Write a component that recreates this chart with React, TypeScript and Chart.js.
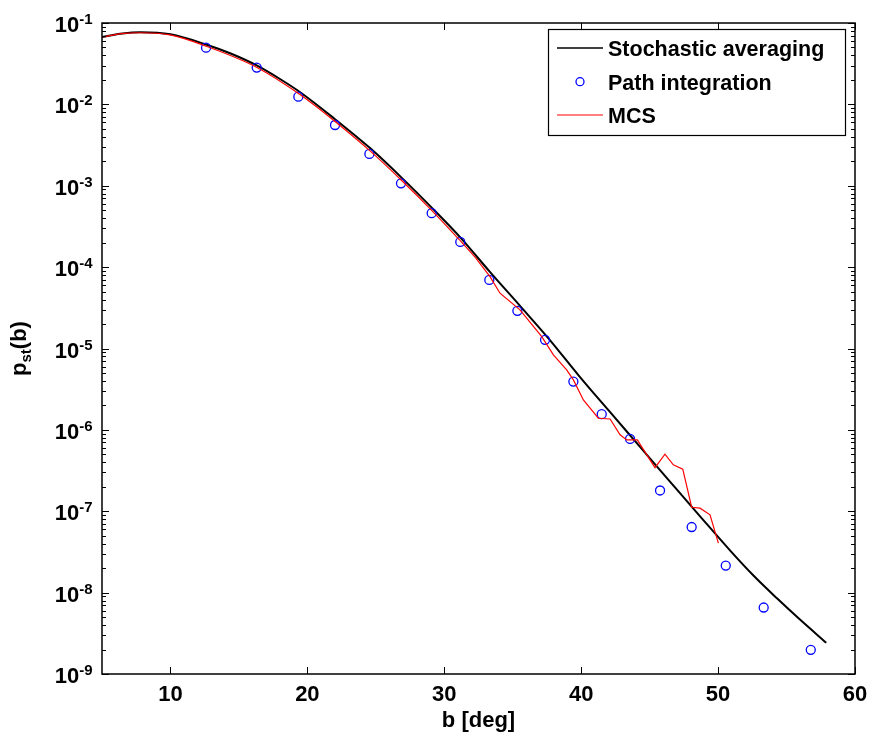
import { useEffect, useRef } from 'react';
import { Chart, registerables } from 'chart.js';

Chart.register(...registerables);

// Stochastic averaging solution p_st(b)
const averagingB = [5, 6.5, 7.8, 10, 12.7, 14.4, 16.3, 18, 19.5, 22, 24.6, 26.9, 29.1, 31.2, 33.3, 35.5, 37.7, 39.9, 42.1, 44.3, 46.5, 48.7, 50.9, 52.6, 54.3, 56, 57.9];
const averagingP = [0.0673, 0.0743, 0.0769, 0.0726, 0.0537, 0.0422, 0.0301, 0.0205, 0.014, 6.62e-3, 2.88e-3, 1.25e-3, 5.35e-4, 2.29e-4, 8.87e-5, 3.39e-5, 1.28e-5, 4.48e-6, 1.66e-6, 6.18e-7, 2.3e-7, 8.6e-8, 3.26e-8, 1.61e-8, 8.51e-9, 4.63e-9, 2.42e-9];

// Path integration results
const pathB = [12.6, 16.3, 19.34, 22.02, 24.53, 26.84, 29.08, 31.17, 33.29, 35.34, 37.36, 39.43, 41.5, 43.57, 45.76, 48.07, 50.56, 53.33, 56.77];
const pathP = [0.0498, 0.0283, 0.01245, 5.58e-3, 2.46e-3, 1.07e-3, 4.6e-4, 2.04e-4, 6.97e-5, 2.9e-5, 1.28e-5, 3.92e-6, 1.56e-6, 7.74e-7, 1.8e-7, 6.4e-8, 2.15e-8, 6.56e-9, 1.98e-9];

// Monte Carlo simulation: smooth body and noisy tail
const mcsBodyB = [5, 6.46, 7.78, 9.97, 12.67, 16.32, 19.46, 22.02, 24.58, 26.89, 29.08, 31.15];
const mcsBodyP = [0.0673, 0.074, 0.0759, 0.0713, 0.0514, 0.0284, 0.0132, 6.17e-3, 2.68e-3, 1.16e-3, 4.98e-4, 2.13e-4];
const mcsTailB = [31.15, 32.25, 33.34, 34.07, 35.53, 37.12, 37.97, 38.94, 39.43, 40.16, 41.25, 42.11, 42.84, 43.33, 44.1, 45.39, 46.12, 46.73, 47.42, 48.07, 48.68, 49.41, 50.02];
const mcsTailP = [2.13e-4, 1.33e-4, 7.64e-5, 4.78e-5, 2.98e-5, 1.4e-5, 8.34e-6, 5.46e-6, 4.11e-6, 2.33e-6, 1.39e-6, 1.36e-6, 8.69e-7, 7.53e-7, 7.53e-7, 3.44e-7, 5.02e-7, 3.72e-7, 3.29e-7, 1.12e-7, 1.09e-7, 9.04e-8, 4.06e-8];

const xTicks = [10, 20, 30, 40, 50, 60];
const yExponents = [-9, -8, -7, -6, -5, -4, -3, -2, -1];
const legendLabels = ['Stochastic averaging', 'Path integration', 'MCS'];

const FONT = '"Liberation Sans", Arial, Helvetica, sans-serif';

const pts = (xs: number[], ys: number[]) => xs.map((x, i) => ({ x, y: ys[i] }));

const axesPlugin = {
  id: 'boxedAxes',
  afterDatasetsDraw(chart: any) {
    const { ctx, chartArea: a, scales } = chart;
    const x = scales.x;
    const y = scales.y;
    ctx.save();
    ctx.strokeStyle = '#000';
    ctx.fillStyle = '#000';
    ctx.lineWidth = 1;
    const seg = (x1: number, y1: number, x2: number, y2: number) => {
      ctx.beginPath();
      ctx.moveTo(x1, y1);
      ctx.lineTo(x2, y2);
      ctx.stroke();
    };
    // x ticks, bottom and top
    for (const t of xTicks) {
      const px = Math.round(x.getPixelForValue(t)) + 0.5;
      seg(px, a.bottom, px, a.bottom - 7);
      seg(px, a.top, px, a.top + 7);
    }
    // y ticks (major decades + minor)
    for (const e of yExponents) {
      const py = Math.round(y.getPixelForValue(Math.pow(10, e))) + 0.5;
      seg(a.left, py, a.left + 7, py);
      seg(a.right, py, a.right - 7, py);
      if (e < -1) {
        for (let k = 2; k <= 9; k++) {
          const pm = Math.round(y.getPixelForValue(k * Math.pow(10, e))) + 0.5;
          seg(a.left, pm, a.left + 4, pm);
          seg(a.right, pm, a.right - 4, pm);
        }
      }
    }
    // box
    ctx.lineWidth = 1.5;
    ctx.strokeRect(a.left, a.top, a.right - a.left, a.bottom - a.top);

    // x tick labels
    ctx.font = `bold 22px ${FONT}`;
    ctx.textAlign = 'center';
    ctx.textBaseline = 'alphabetic';
    for (const t of xTicks) {
      ctx.fillText(String(t), x.getPixelForValue(t), a.bottom + 27);
    }
    // y tick labels 10^e
    ctx.textAlign = 'left';
    for (const e of yExponents) {
      const py = y.getPixelForValue(Math.pow(10, e));
      ctx.font = `bold 22px ${FONT}`;
      const wBase = ctx.measureText('10').width;
      ctx.font = `bold 15px ${FONT}`;
      const sup = String(e);
      const wSup = ctx.measureText(sup).width;
      const left = a.left - 9.5 - wBase - wSup;
      ctx.font = `bold 22px ${FONT}`;
      ctx.fillText('10', left, py + 9);
      ctx.font = `bold 15px ${FONT}`;
      ctx.fillText(sup, left + wBase, py + 1);
    }
    // x title
    ctx.font = `bold 22px ${FONT}`;
    ctx.textAlign = 'center';
    ctx.fillText('b [deg]', (a.left + a.right) / 2, 727);

    // y title p_st(b), rotated
    ctx.save();
    ctx.translate(26, (a.top + a.bottom) / 2);
    ctx.rotate(-Math.PI / 2);
    ctx.textAlign = 'left';
    ctx.font = `bold 22px ${FONT}`;
    const wp = ctx.measureText('p').width;
    const wb = ctx.measureText('(b)').width;
    ctx.font = `bold 15px ${FONT}`;
    const ws = ctx.measureText('st').width;
    let cx = -(wp + ws + wb) / 2;
    ctx.font = `bold 22px ${FONT}`;
    ctx.fillText('p', cx, 0);
    cx += wp;
    ctx.font = `bold 15px ${FONT}`;
    ctx.fillText('st', cx, 5);
    cx += ws;
    ctx.font = `bold 22px ${FONT}`;
    ctx.fillText('(b)', cx, 0);
    ctx.restore();

    // legend
    const lx = 548, ly = 29, lw = 297, lh = 106;
    ctx.fillStyle = '#fff';
    ctx.fillRect(lx, ly, lw, lh);
    ctx.lineWidth = 1.2;
    ctx.strokeStyle = '#000';
    ctx.strokeRect(lx + 0.5, ly + 0.5, lw, lh);
    const rows = [48, 81.7, 115];
    ctx.lineWidth = 1.3;
    ctx.strokeStyle = '#000';
    seg(557, rows[0], 603, rows[0]);
    ctx.strokeStyle = '#0000ff';
    ctx.beginPath();
    ctx.arc(580, rows[1], 4, 0, Math.PI * 2);
    ctx.stroke();
    ctx.strokeStyle = '#ff0000';
    ctx.lineWidth = 1;
    seg(557, rows[2], 603, rows[2]);
    ctx.fillStyle = '#000';
    ctx.font = `bold 21.5px ${FONT}`;
    ctx.textAlign = 'left';
    legendLabels.forEach((lab, i) => ctx.fillText(lab, 608, rows[i] + 8));
    ctx.restore();
  },
};

export default function App() {
  const canvasRef = useRef<HTMLCanvasElement | null>(null);

  useEffect(() => {
    const canvas = canvasRef.current;
    if (!canvas) return;
    const chart = new Chart(canvas, {
      type: 'scatter',
      data: {
        datasets: [
          {
            label: 'MCS',
            data: pts(mcsBodyB, mcsBodyP),
            showLine: true,
            borderColor: '#ff0000',
            borderWidth: 1.2,
            pointRadius: 0,
            cubicInterpolationMode: 'monotone',
            order: 0,
          },
          {
            label: 'MCS tail',
            data: pts(mcsTailB, mcsTailP),
            showLine: true,
            borderColor: '#ff0000',
            borderWidth: 1.2,
            pointRadius: 0,
            tension: 0,
            order: 0,
          },
          {
            label: 'Path integration',
            data: pts(pathB, pathP),
            showLine: false,
            borderColor: '#0000ff',
            backgroundColor: 'rgba(0,0,0,0)',
            borderWidth: 1.3,
            pointRadius: 4.5,
            pointStyle: 'circle',
            order: 1,
          },
          {
            label: 'Stochastic averaging',
            data: pts(averagingB, averagingP),
            showLine: true,
            borderColor: '#000000',
            borderWidth: 2,
            pointRadius: 0,
            cubicInterpolationMode: 'monotone',
            order: 2,
          },
        ],
      },
      options: {
        responsive: false,
        animation: false,
        layout: { padding: { left: 102, top: 23, right: 17, bottom: 68 } },
        plugins: { legend: { display: false }, tooltip: { enabled: false } },
        scales: {
          x: { type: 'linear', min: 5, max: 60, display: false },
          y: { type: 'logarithmic', min: 1e-9, max: 1e-1, display: false },
        },
      },
      plugins: [axesPlugin],
    } as any);
    return () => chart.destroy();
  }, []);

  return (
    <div style={{ position: 'fixed', left: 0, top: 0, width: 872, height: 742, background: '#fff' }}>
      <canvas ref={canvasRef} width={872} height={742} style={{ display: 'block' }} />
    </div>
  );
}
